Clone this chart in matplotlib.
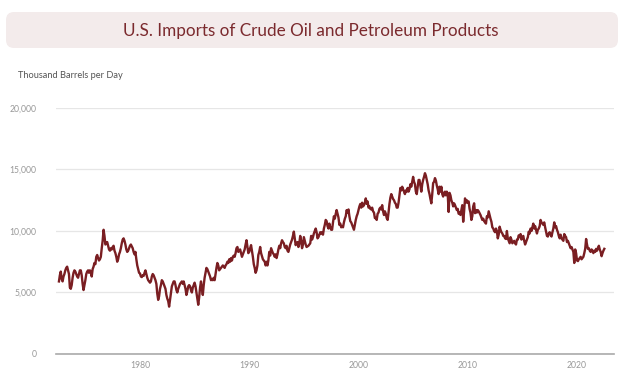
import numpy as np
import matplotlib
matplotlib.use('Agg')
import matplotlib.pyplot as plt
from matplotlib.patches import FancyBboxPatch
from matplotlib.ticker import FuncFormatter

plt.rcParams['font.family'] = ['Lato', 'DejaVu Sans']

# monthly imports, thousand barrels per day, one row per year (Jan..Dec)
imports_1970s = [
    5900, 6400, 6700, 6100, 5900, 6300, 6500, 6800, 7000, 7100, 6800, 6500,   # 1973
    5400, 5300, 5600, 6200, 6600, 6800, 6700, 6500, 6300, 6200, 6500, 6800,   # 1974
    6800, 6400, 5700, 5200, 5600, 6000, 6500, 6700, 6800, 6600, 6800, 6700,   # 1975
    6300, 6900, 7100, 7400, 7300, 7900, 8050, 7800, 7600, 7700, 7900, 8600,   # 1976
    9200, 10100, 9600, 8900, 9000, 9100, 8800, 8500, 8400, 8600, 8500, 8700,  # 1977
    8800, 8400, 8200, 7900, 7500, 7700, 8100, 8300, 8600, 9000, 9300, 9400,   # 1978
    9200, 8900, 8500, 8300, 8400, 8600, 8800, 8900, 8750, 8600, 8300, 8100,   # 1979
]
imports_1980s = [
    8300, 7700, 7200, 6900, 6600, 6550, 6300, 6250, 6400, 6350, 6600, 6800,   # 1980
    6500, 6200, 6000, 5900, 5800, 5900, 6300, 6500, 6400, 6200, 6000, 5700,   # 1981
    4900, 4400, 4700, 5300, 5600, 6000, 5900, 5700, 5500, 5300, 4800, 4500,   # 1982
    4300, 3850, 4400, 5000, 5500, 5700, 5900, 5900, 5600, 5200, 5000, 5300,   # 1983
    5500, 5700, 5800, 5900, 5700, 5900, 5600, 5300, 4800, 5100, 5500, 5600,   # 1984
    5500, 5200, 5000, 5400, 5600, 5800, 5500, 5000, 4500, 4000, 4600, 5400,   # 1985
    5900, 5300, 4800, 5600, 6200, 6600, 7000, 6900, 6700, 6500, 6300, 6000,   # 1986
    6100, 6000, 6200, 6000, 6500, 7000, 7400, 7200, 6800, 6900, 7000, 7100,   # 1987
    7200, 7100, 7000, 7200, 7300, 7500, 7400, 7700, 7500, 7800, 7600, 7900,   # 1988
    8000, 7900, 8200, 8600, 8700, 8300, 8400, 8500, 8200, 7900, 8100, 8300,   # 1989
]
imports_1990s = [
    8500, 8900, 9250, 8700, 8200, 8300, 8600, 8850, 8400, 7900, 7300, 7000,   # 1990
    6600, 6800, 7200, 8050, 8300, 8700, 8200, 7950, 7700, 7600, 7500, 7200,   # 1991
    7500, 7200, 7600, 8300, 8000, 8600, 8400, 8200, 8100, 7900, 8100, 7800,   # 1992
    8100, 8500, 8800, 8600, 9000, 9250, 9100, 9000, 8700, 8600, 8800, 8400,   # 1993
    8300, 8600, 8900, 9100, 9300, 9600, 9950, 9400, 8850, 9000, 9100, 8700,   # 1994
    9000, 9600, 9200, 8600, 8900, 9500, 9200, 8900, 8700, 8750, 8800, 8900,   # 1995
    9000, 9600, 9300, 9500, 9800, 10000, 10200, 9900, 9400, 9500, 9700, 9900,  # 1996
    9800, 9900, 9700, 10200, 10500, 10900, 10800, 10400, 10200, 10600, 10300, 10100,  # 1997
    10100, 10700, 11200, 11000, 11400, 11700, 11400, 11100, 10500, 10600, 10300, 10400,  # 1998
    10300, 10700, 11000, 11200, 11700, 11500, 11750, 11200, 10800, 10700, 10500, 10300,  # 1999
]
imports_2000s = [
    10100, 10500, 10900, 11200, 11400, 11700, 12000, 12200, 11900, 12300, 12000, 12100,  # 2000
    12300, 12650, 12200, 12400, 11900, 12000, 11800, 11750, 11900, 11600, 11500, 11050,  # 2001
    11050, 10900, 11400, 11500, 11800, 11900, 11750, 12100, 11600, 11300, 11600, 11400,  # 2002
    11050, 10900, 11500, 12200, 12700, 13000, 12800, 12600, 12500, 12300, 12200, 11900,  # 2003
    11900, 12300, 12900, 13500, 13300, 13600, 13400, 13200, 13000, 13300, 13200, 13500,  # 2004
    13200, 13400, 13800, 13600, 14000, 14400, 14000, 13800, 13200, 13000, 13600, 14150,  # 2005
    14150, 13700, 13200, 13800, 14150, 14400, 14700, 14500, 14150, 13800, 13300, 13000,  # 2006
    12600, 12250, 13000, 13900, 14000, 14300, 14100, 13700, 13400, 13000, 13600, 13200,  # 2007
    13600, 13000, 12800, 13100, 13200, 12900, 13200, 13000, 11550, 13100, 12900, 12500,  # 2008
    12300, 12000, 12250, 12100, 11900, 11700, 11800, 11400, 11500, 11300, 11700, 12100,  # 2009
]
imports_2010s = [
    10750, 11600, 12650, 12300, 12500, 12300, 12400, 11800, 11500, 10900, 11200, 12000,  # 2010
    12250, 11450, 11700, 11500, 11700, 11600, 11450, 11300, 11100, 10900, 11000, 10800,  # 2011
    10700, 10600, 11200, 11100, 11600, 11300, 11000, 10750, 10300, 10200, 10000, 9900,   # 2012
    10200, 10000, 9400, 9700, 10350, 10100, 9900, 9800, 9600, 9600, 9400, 9350,         # 2013
    10000, 9400, 9200, 9000, 9500, 9300, 9000, 9100, 9200, 9000, 8900, 9300,            # 2014
    9300, 9650, 9500, 9750, 9300, 9500, 9600, 9200, 8900, 9100, 9300, 9500,             # 2015
    9950, 9800, 10200, 10000, 10300, 10600, 10200, 10400, 10100, 9800, 10100, 10200,    # 2016
    10400, 10900, 10700, 10600, 10500, 10700, 10300, 9950, 9600, 9550, 9800, 9900,      # 2017
    9700, 9550, 9900, 10200, 10700, 10300, 10400, 10100, 9900, 9600, 9400, 9700,        # 2018
    9400, 9300, 9200, 9750, 9600, 9500, 9100, 9200, 9000, 8800, 8600, 8700,             # 2019
]
imports_2020s = [
    8500, 8300, 7400, 8500, 8200, 7600, 7550, 7700, 7800, 7900, 7700, 7800,   # 2020
    7900, 8200, 8550, 9350, 8900, 8550, 8600, 8400, 8300, 8500, 8400, 8200,   # 2021
    8400, 8300, 8550, 8400, 8600, 8800, 8500, 8300, 7950, 8200, 8400, 8550,   # 2022
]
first_year = 1973
tick_years = [1980, 1990, 2000, 2010, 2020]
y_ticks = [0, 5000, 10000, 15000, 20000]

values = np.array(imports_1970s + imports_1980s + imports_1990s +
                  imports_2000s + imports_2010s + imports_2020s, dtype=float)
x = first_year + np.arange(len(values)) / 12.0

line_color = '#7a1e22'
fig = plt.figure(figsize=(6.25, 3.72), dpi=100)
ax = fig.add_axes([0.0896, 0.0484, 0.8924, 0.6613])

# title banner (inches: x 0.06-6.18, y 3.24-3.60)
box = FancyBboxPatch((0.13, 3.31), 5.98, 0.22, boxstyle='round,pad=0.07,rounding_size=0.08',
                     transform=fig.dpi_scale_trans, facecolor='#f3ebeb', edgecolor='none')
fig.add_artist(box)
fig.text(0.4976, 0.918, 'U.S. Imports of Crude Oil and Petroleum Products',
         ha='center', va='center', fontsize=12.3, color='#7b2a2e')
fig.text(0.029, 0.798, 'Thousand Barrels per Day', ha='left', va='center',
         fontsize=6.7, color='#555555')

ax.plot(x, values, color=line_color, linewidth=1.7, solid_joinstyle='round')

ax.set_ylim(0, 20000)
ax.set_xlim(1972.73, 2023.78)
ax.set_yticks(y_ticks)
ax.yaxis.set_major_formatter(FuncFormatter(lambda v, p: f'{int(v):,}'))
ax.set_xticks([yr + 0.41 for yr in tick_years])
ax.set_xticklabels([str(yr) for yr in tick_years])
ax.tick_params(axis='both', length=0, labelsize=6.2, labelcolor='#999999')
ax.tick_params(axis='y', pad=14)
ax.tick_params(axis='x', pad=5)
ax.grid(axis='y', color='#e6e6e6', linewidth=0.9)
ax.set_axisbelow(True)
for side in ['top', 'right', 'left']:
    ax.spines[side].set_visible(False)
ax.spines['bottom'].set_color('#aaaaaa')
ax.spines['bottom'].set_linewidth(1.2)
ax.spines['bottom'].set_zorder(3)

fig.savefig('out.png', dpi=100)
